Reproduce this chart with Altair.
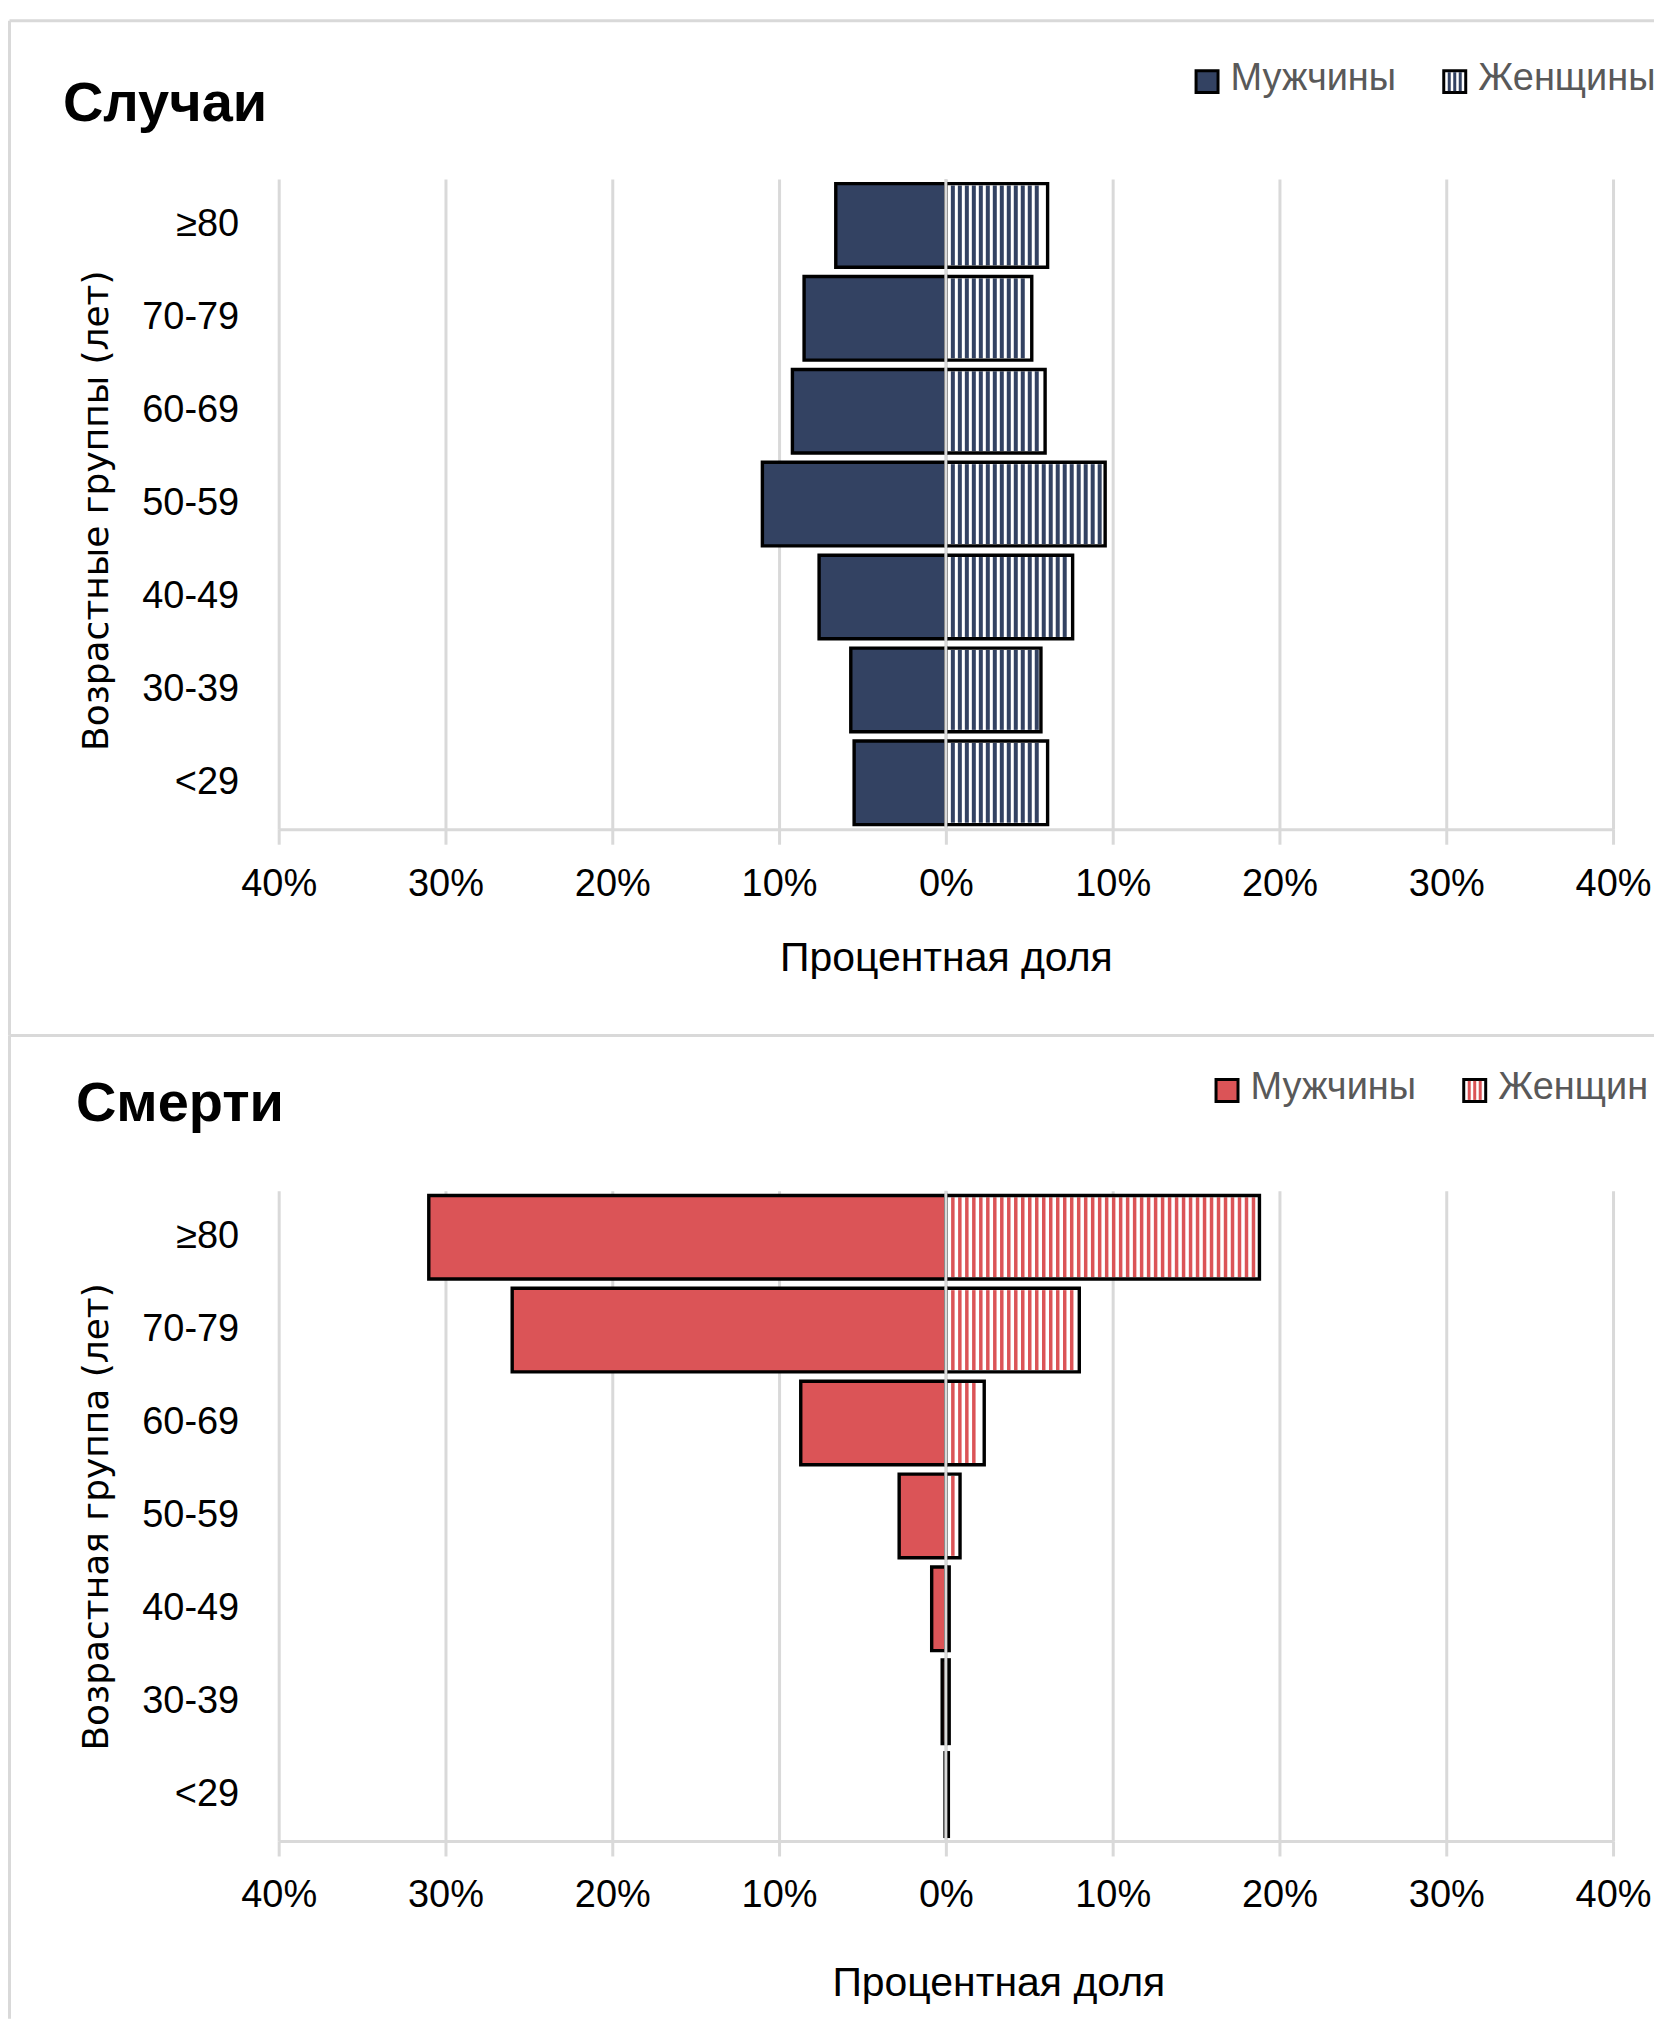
import altair as alt
import pandas as pd

# ---------------- data ----------------
ages = ["≥80", "70-79", "60-69", "50-59", "40-49", "30-39", "<29"]
cases_male = [6.6, 8.5, 9.2, 11.0, 7.6, 5.7, 5.5]
cases_female = [6.1, 5.15, 5.95, 9.55, 7.6, 5.7, 6.1]
deaths_male = [31.0, 26.0, 8.7, 2.8, 0.85, 0.22, 0.05]
deaths_female = [18.8, 8.0, 2.3, 0.85, 0.2, 0.2, 0.15]
x_ticks = [-40, -30, -20, -10, 0, 10, 20, 30, 40]
legend_labels = ["Мужчины", "Женщины"]

NAVY = "#334262"
RED = "#DB5457"
GRID = "#d9d9d9"
FONT = "Liberation Sans"
W, H = 1336, 651
PX = W / 80.0          # pixels per percent
PERIOD = 7.0 / PX      # stripe period in percent units
BORDER = 3.4

one = pd.DataFrame({"k": [0]})


def stripe_positions(values, thick):
    rows = []
    for age, v in zip(ages, values):
        k = 1
        while k * PERIOD * PX + thick / 2 <= v * PX - 2.0:
            rows.append({"age": age, "x": k * PERIOD})
            k += 1
    return pd.DataFrame(rows if rows else [{"age": ages[0], "x": 0}])


def hrule(x1, x2, y):
    return alt.Chart(one).mark_rule(color=GRID, strokeWidth=3).encode(
        x=alt.value(x1), x2=alt.value(x2), y=alt.value(y))


def vrule(x, y1, y2, color=GRID, w=3):
    return alt.Chart(one).mark_rule(color=color, strokeWidth=w).encode(
        x=alt.value(x), y=alt.value(y1), y2=alt.value(y2))


def text(t, x, y, size, weight="normal", color="black", limit=0, font=FONT):
    kw = dict(font=font, fontSize=size, fontWeight=weight, color=color,
              align="left", baseline="alphabetic")
    if limit:
        kw["limit"] = limit
        kw["ellipsis"] = "\u200b"
    return alt.Chart(pd.DataFrame({"t": [t]})).mark_text(**kw).encode(
        text="t:N", x=alt.value(x), y=alt.value(y))


def panel(male, female, color, stripe_w, title, title_xy, ytitle, ytitle_y,
          xtitle_x, xtitle_y, leg_xy, female_limit, frame):
    df = pd.DataFrame({
        "age": ages,
        "m0": [-v for v in male], "m1": [0] * len(ages),
        "f0": [0] * len(ages), "f1": female,
    })
    xscale = alt.Scale(domain=[-40, 40], nice=False, zero=False)
    yscale = alt.Scale(domain=ages, paddingInner=0.1, paddingOuter=0.05)

    xaxis = alt.Axis(
        values=x_ticks, labelExpr="abs(datum.value) + '%'", labelFlush=False,
        grid=True, gridColor=GRID, gridWidth=3,
        domain=True, domainColor=GRID, domainWidth=3,
        ticks=True, tickColor=GRID, tickWidth=3, tickSize=15,
        labelFont=FONT, labelFontSize=38, labelColor="black", labelPadding=21,
        title="Процентная доля", titleFont=FONT, titleFontSize=41,
        titleFontWeight="normal", titleColor="black",
        titleBaseline="alphabetic", titleX=xtitle_x, titleY=xtitle_y,
    )
    yaxis = alt.Axis(
        domain=False, ticks=False, grid=False,
        labelFont=FONT, labelFontSize=38, labelColor="black", labelPadding=40,
        title=ytitle, titleFont="DejaVu Sans", titleFontSize=36,
        titleFontWeight="normal", titleColor="black", titleAngle=270,
        titleAlign="center", titleBaseline="alphabetic",
        titleX=-171, titleY=ytitle_y,
    )

    def X(f):
        return alt.X(f, scale=xscale, axis=xaxis)

    def Y():
        return alt.Y("age:N", sort=ages, scale=yscale, axis=yaxis)

    male_bars = alt.Chart(df).mark_bar(fill=color, stroke="black", strokeWidth=BORDER).encode(
        x=X("m0:Q"), x2="m1", y=Y())
    female_fill = alt.Chart(df).mark_bar(fill="white", strokeWidth=0).encode(
        x=X("f0:Q"), x2="f1", y=Y())
    stripes = alt.Chart(stripe_positions(female, stripe_w)).mark_tick(
        color=color, thickness=stripe_w, size=80, opacity=1).encode(
        x=X("x:Q"), y=Y())
    female_outline = alt.Chart(df).mark_bar(
        fill="white", fillOpacity=0, stroke="black", strokeWidth=BORDER).encode(
        x=X("f0:Q"), x2="f1", y=Y())
    zero = alt.Chart(pd.DataFrame({"z": [0]})).mark_rule(color=GRID, strokeWidth=3).encode(
        x=X("z:Q"))

    lx, ly = leg_xy
    fx = lx + 248
    legend = [
        alt.Chart(one).mark_rect(fill=color, stroke="black", strokeWidth=3).encode(
            x=alt.value(lx + 1.5), x2=alt.value(lx + 23.5),
            y=alt.value(ly + 1.5), y2=alt.value(ly + 23.5)),
        text(legend_labels[0], lx + 36, ly + 21, 38, color="#595959"),
        alt.Chart(one).mark_rect(fill="white", stroke="black", strokeWidth=3).encode(
            x=alt.value(fx + 1.5), x2=alt.value(fx + 23.5),
            y=alt.value(ly + 1.5), y2=alt.value(ly + 23.5)),
        vrule(fx + 7, ly + 3, ly + 22, color=color, w=3),
        vrule(fx + 12.5, ly + 3, ly + 22, color=color, w=3),
        vrule(fx + 18, ly + 3, ly + 22, color=color, w=3),
        text(legend_labels[1], fx + 36, ly + 21, 38, color="#595959", limit=female_limit),
    ]

    ttl = text(title, title_xy[0], title_xy[1], 56, weight="bold")

    layers = [male_bars, female_fill, stripes, female_outline, zero, ttl] + legend + frame
    return alt.layer(*layers).properties(width=W, height=H)


top_frame = [
    hrule(-269.5, 1377, -158.5),
    vrule(-269.5, -158.5, 857.5),
    hrule(-269.5, 1377, 857.5),
]
bottom_frame = [
    vrule(-269.5, -155.5, 829),
]

top = panel(cases_male, cases_female, NAVY, 4, "Случаи", (-216, -58),
            "Возрастные группы (лет)", 331.6, 668, 141, (917, -110), 178, top_frame)
bottom = panel(deaths_male, deaths_female, RED, 3.5, "Смерти", (-203, -70),
               "Возрастная группа (лет)", 326, 720.5, 155, (937, -113), 160, bottom_frame)

chart = alt.vconcat(top, bottom, spacing=362, bounds="flush").properties(
    padding={"left": 0, "top": 10, "right": 0, "bottom": 0}
).configure(font=FONT).configure_view(strokeWidth=0)

chart.save("out.html", embed_options={"renderer": "svg", "actions": False})
